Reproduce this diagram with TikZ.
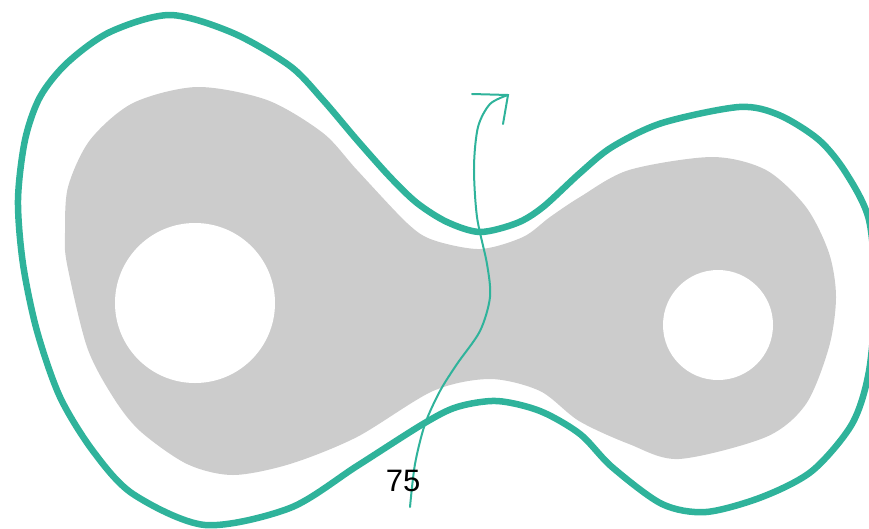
\documentclass[tikz,border=0pt]{standalone}
\usepackage{fontspec}
\setmainfont{Liberation Sans}
\definecolor{teal1}{RGB}{47,179,155}
\definecolor{gray1}{RGB}{204,204,204}
\begin{document}
\begin{tikzpicture}[x=1pt,y=-1pt,
  outer/.style={draw=teal1,line width=6.5pt,line join=round},
  thin/.style={draw=teal1,line width=2pt,line cap=round},
  region/.style={fill=gray1}]
\useasboundingbox (0,0) rectangle (869,528);
% gray region
\fill[region] plot[smooth cycle,tension=0.5] coordinates {
 (197,87) (267,100) (323,133) (357,170) (407,223) (433,240) (480,249)
 (523,237) (550,217) (580,197) (629,170) (712,157) (766,170) (806,207)
 (829,253) (836,297) (829,347) (806,404) (766,437) (679,459) (629,444)
 (579,421) (540,391) (490,379) (433,391) (357,437) (290,464) (233,475)
 (187,464) (140,431) (113,397) (87,347) (67,264) (65,233) (68,187)
 (90,140) (133,103)};
% holes
\fill[white] (195,303) circle[radius=80];
\fill[white] (718,325) circle[radius=55];
% outer contour
\draw[outer] plot[smooth cycle,tension=0.5] coordinates {
 (170,15) (233,33) (290,66) (323,100) (357,140) (390,177) (417,203)
 (447,222) (480,232) (517,223) (543,207) (580,173) (612,147) (662,123)
 (739,107) (779,115) (819,140) (846,173) (869,220) (875,295) (869,371)
 (852,424) (812,471) (762,497) (706,512) (662,504) (612,467) (580,434)
 (540,411) (497,401) (457,407) (423,424) (357,466) (290,508) (205,525)
 (133,494) (93,451) (60,397) (37,331) (23,264) (18,200)
 (25,140) (40,97) (67,63) (110,32)};
% thin path with arrow
\coordinate (s) at (410,507);
\coordinate (tip) at (508,95);
\coordinate (hl) at (472,94);
\coordinate (hd) at (503,124);
\draw[thin] plot[smooth,tension=0.5] coordinates {
 (410,507) (415,464) (425,424) (440,391) (457,364) (480,331) (490,297)
 (487,264) (477,217) (474,167) (478,127) (490,104) (508,95)};
\draw[thin] (hl) -- (tip) -- (hd);
\node[font=\fontsize{31}{31}\selectfont,inner sep=0pt] (lab) at (403,481) {75};
\end{tikzpicture}
\end{document}
